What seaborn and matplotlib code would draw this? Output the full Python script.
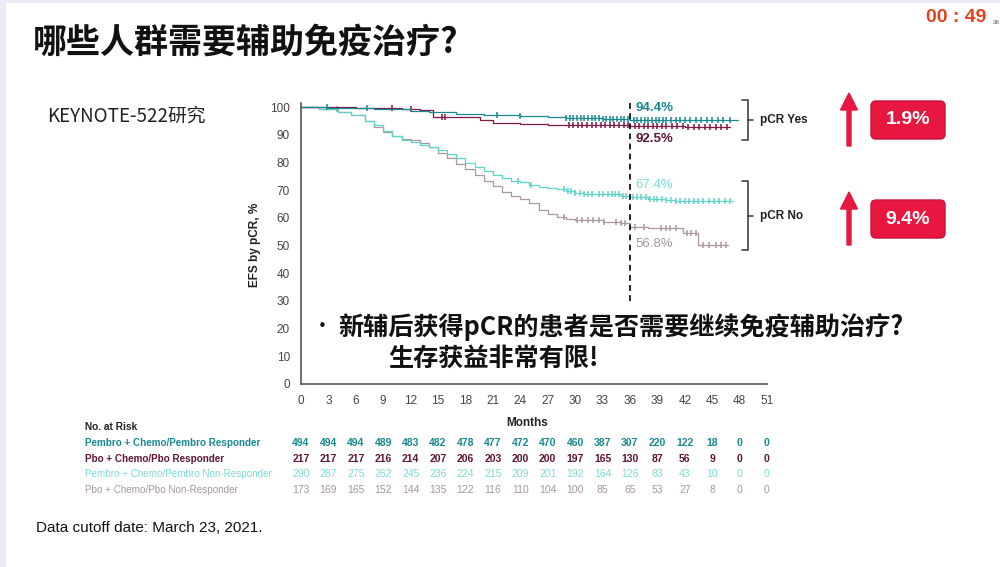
import numpy as np
import seaborn as sns
import matplotlib
matplotlib.use("Agg")
from matplotlib import pyplot as plt
from matplotlib import transforms
from matplotlib.patches import FancyArrow, FancyBboxPatch, Rectangle

sns.set_theme(style="white")
plt.rcParams["font.family"] = ["Noto Sans CJK SC", "DejaVu Sans"]
LAT = ["Liberation Sans", "DejaVu Sans"]

# ---- data ----
months_ticks = list(range(0, 52, 3))
yticks = list(range(0, 101, 10))

# KM step curves (time in months, EFS %)
pr_t = [0, 3, 8, 12, 14, 17, 20, 24, 27, 29, 33, 36, 40, 47.8]
pr_s = [100, 99.7, 99.2, 98.6, 98.2, 97.6, 97.2, 96.8, 96.5, 96.2, 95.9, 95.4, 95.2, 95.2]

br_t = [0, 6, 11, 13, 14.5, 19.6, 21, 24, 27, 30, 36, 42, 47]
br_s = [100, 99.7, 99.4, 98.8, 96.3, 95.2, 94.4, 93.9, 93.6, 93.4, 93.2, 93.0, 93.0]

pn_t = [0, 2, 4, 5.5, 7, 8, 9, 10, 11, 12, 13, 14, 15, 16, 17, 18, 19, 20, 21, 22, 23,
        24, 25, 26, 27, 28, 29, 30, 31, 33, 35, 36, 38, 40, 41, 43, 47.3]
pn_s = [100, 99.3, 98.3, 97, 95, 93.5, 91.5, 89.5, 88, 87.5, 86.5, 85.5, 84.5, 83, 81.5,
        80, 78.5, 77, 75.5, 74.5, 73.5, 72.8, 72, 71.3, 70.8, 70.3, 69.6, 69.1, 68.8,
        68.5, 68, 67.4, 67, 66.5, 66.2, 66, 66]

bn_t = [0, 2, 4, 5.5, 7, 8, 9, 10, 11, 12, 13, 14, 15, 16, 17, 18, 19, 20, 21, 22, 23,
        24, 25, 26, 27, 28, 29, 30, 33, 35, 36, 38, 41.8, 43.4, 46.7]
bn_s = [100, 99.3, 98.3, 97, 95, 93, 91, 89.5, 88.5, 88, 87, 85.5, 83.5, 81.5, 79.5,
        77.5, 75.5, 73.5, 71.5, 69.5, 68, 67, 65.5, 63, 61.5, 60.5, 59.5, 59.2, 58.6,
        58, 56.8, 56.5, 54.5, 50.2, 50.2]

# censor marks
pr_c = [2.8, 7.2, 21.4, 24, 29, 29.4, 29.8, 30.2, 30.6, 31, 31.4, 31.8, 32.2, 32.6, 33,
        33.4, 33.8, 34.2, 34.6, 35, 35.4, 35.8, 36.4, 36.8, 37.2, 37.6, 38, 38.4, 38.8,
        39.2, 39.6, 40, 40.5, 41, 41.5, 42, 42.6, 43.2, 43.8, 44.4, 45, 45.6, 46.2, 47]
br_c = [10, 12, 15.4, 15.8, 29.3, 29.8, 30.3, 30.8, 31.3, 31.8, 32.3, 32.8, 33.3, 33.8,
        34.3, 34.8, 35.3, 35.8, 36.5, 37, 37.5, 38, 38.5, 39, 39.5, 40, 40.6, 41.2, 41.8,
        42.4, 43, 43.6, 44.2, 44.8, 45.4, 46, 46.6]
pn_c = [23.8, 25.2, 28.8, 29.2, 29.6, 30, 30.5, 31, 31.4, 31.8, 32.6, 33.1, 33.6, 34,
        34.4, 34.8, 35.2, 35.6, 36.3, 36.8, 37.2, 37.8, 38.2, 38.6, 39, 39.5, 40, 40.5,
        41, 41.5, 42, 42.5, 43, 43.5, 44, 44.6, 45.2, 45.8, 46.4, 47]
bn_c = [3.9, 28.8, 30.2, 30.8, 31.4, 32, 32.6, 33.2, 34.5, 35, 35.5, 36, 36.5, 37.5,
        39.4, 39.9, 40.4, 41, 42.2, 42.7, 43.2, 44, 44.7, 45.4, 46, 46.5]

# number at risk
risk_labels = ["Pembro + Chemo/Pembro Responder", "Pbo + Chemo/Pbo Responder",
               "Pembro + Chemo/Pembro Non-Responder", "Pbo + Chemo/Pbo Non-Responder"]
risk_pr = [494, 494, 494, 489, 483, 482, 478, 477, 472, 470, 460, 387, 307, 220, 122, 18, 0, 0]
risk_br = [217, 217, 217, 216, 214, 207, 206, 203, 200, 200, 197, 165, 130, 87, 56, 9, 0, 0]
risk_pn = [290, 287, 275, 262, 245, 236, 224, 215, 209, 201, 192, 164, 126, 83, 43, 10, 0, 0]
risk_bn = [173, 169, 165, 152, 144, 135, 122, 116, 110, 104, 100, 85, 65, 53, 27, 8, 0, 0]

c_pr, c_br, c_pn, c_bn = "#168a8f", "#7d1a45", "#5fd3cc", "#ad979e"
t_pr, t_br, t_pn, t_bn = "#168a8f", "#5e1432", "#7adcd6", "#a8969c"
red = "#e8173f"

fig = plt.figure(figsize=(10, 5.67), dpi=100)
fig.patch.set_facecolor("#eeeaf6")

# overlay in pixel coordinates for slide decorations
ov = fig.add_axes([0, 0, 1, 1])
ov.set_xlim(0, 1000)
ov.set_ylim(567, 0)
ov.axis("off")
ov.add_patch(Rectangle((6, 3), 994, 564, fc="white", ec="none"))

ax = fig.add_axes([0.301, 1 - 384 / 567, 0.466, 281 / 567])
ax.set_facecolor("none")

for t, s, c, cen in [(bn_t, bn_s, c_bn, bn_c), (pn_t, pn_s, c_pn, pn_c),
                     (br_t, br_s, c_br, br_c), (pr_t, pr_s, c_pr, pr_c)]:
    sns.lineplot(x=t, y=s, ax=ax, color=c, lw=0.9, drawstyle="steps-post",
                 estimator=None, sort=False)
    idx = np.searchsorted(t, cen, side="right") - 1
    ax.plot(cen, np.array(s)[idx], ls="none", marker="|", ms=5, mew=1.1, color=c)

ax.plot([36, 36], [30, 102], ls=(0, (3, 2.2)), color="#222222", lw=1.4, clip_on=False)

ax.set_xlim(0, 51)
ax.set_ylim(0, 101.5)
ax.set_xticks(months_ticks)
ax.set_yticks(yticks)
for sp in ["top", "right"]:
    ax.spines[sp].set_visible(False)
for sp in ["left", "bottom"]:
    ax.spines[sp].set_color("#555555")
    ax.spines[sp].set_linewidth(1.2)
ax.tick_params(axis="both", direction="out", length=5, width=1, color="#555555",
               labelsize=8.5, labelcolor="#444444", pad=3)
for lab in ax.get_xticklabels() + ax.get_yticklabels():
    lab.set_fontfamily(LAT)

# percentage labels at 36 months
ax.text(36.6, 99.8, "94.4%", color=t_pr, fontsize=9.5, fontweight="bold", family=LAT, va="center")
ax.text(36.6, 88.6, "92.5%", color=t_br, fontsize=9.5, fontweight="bold", family=LAT, va="center")
ax.text(36.6, 71.8, "67.4%", color=t_pn, fontsize=9.5, family=LAT, va="center")
ax.text(36.6, 50.5, "56.8%", color=t_bn, fontsize=9.5, family=LAT, va="center")

# brackets
for y0, y1, lab in [(100, 140, "pCR Yes"), (181, 250, "pCR No")]:
    ym = (y0 + y1) / 2
    ov.plot([742, 748, 748, 742], [y0, y0, y1, y1], color="#333333", lw=1.1)
    ov.plot([748, 753], [ym, ym], color="#333333", lw=1.1)
    ov.text(760, ym, lab, fontsize=8.5, fontweight="bold", family=LAT, va="center", color="#222222")

# red arrows and badges
for ytop, ybot, txt in [(93, 146, "1.9%"), (192, 245, "9.4%")]:
    ov.add_patch(FancyArrow(849, ybot, 0, -(ybot - ytop), width=4, head_width=17,
                            head_length=17, length_includes_head=True, fc=red, ec=red))
    yc = ytop + 27
    ov.add_patch(FancyBboxPatch((871, yc - 19), 74, 38, boxstyle="round,pad=0,rounding_size=5",
                                fc=red, ec="#c8123a", lw=1))
    ov.text(908, yc, txt, color="white", fontsize=14, fontweight="bold", family=LAT,
            ha="center", va="center")

# axis titles
fig.text(0.255, 1 - 245 / 567, "EFS by pCR, %", rotation=90, fontsize=8.5, fontweight="bold",
         family=LAT, ha="center", va="center", color="#222222")
fig.text(0.527, 1 - 423 / 567, "Months", fontsize=8.5, fontweight="bold", family=LAT,
         ha="center", va="center", color="#222222")

# risk table
fig.text(0.085, 1 - 427 / 567, "No. at Risk", fontsize=7.3, fontweight="bold", family=LAT,
         va="center", color="#222222")
btr = transforms.blended_transform_factory(ax.transData, fig.transFigure)
rows = [(risk_pr, t_pr, "bold"), (risk_br, t_br, "bold"),
        (risk_pn, t_pn, "normal"), (risk_bn, t_bn, "normal")]
for i, ((vals, col, wt), lab) in enumerate(zip(rows, risk_labels)):
    yy = 1 - (443 + 15.6 * i) / 567
    fig.text(0.085, yy, lab, fontsize=7.1, fontweight=wt, family=LAT, va="center", color=col)
    for m, v in zip(months_ticks, vals):
        ax.text(m, yy, str(v), transform=btr, fontsize=7.5, fontweight=wt, family=LAT,
                ha="center", va="center", color=col)

# slide texts
ov.text(33, 42, "哪些人群需要辅助免疫治疗?", fontsize=24.5, fontweight="bold", va="center", color="#111111")
ov.text(47, 116, "KEYNOTE-522研究", fontsize=13.5, va="center", color="#222222")
ov.text(312, 327, "•", fontsize=15, va="center", color="#111111")
ov.text(338, 327, "新辅后获得pCR的患者是否需要继续免疫辅助治疗?", fontsize=18.1,
        fontweight="bold", va="center", color="#111111")
ov.text(388, 358, "生存获益非常有限!", fontsize=18.1, fontweight="bold", va="center", color="#111111")
ov.text(36, 528, "Data cutoff date: March 23, 2021.", fontsize=11, family=LAT, va="center",
        color="#111111")
ov.text(986, 17, "00 : 49", fontsize=14, fontweight="bold", family=LAT, ha="right",
        va="center", color="#e8401c")
ov.text(993, 22, "36", fontsize=4.5, family=LAT, va="center", color="#555555")

fig.savefig("out.png", dpi=100, facecolor=fig.get_facecolor())
